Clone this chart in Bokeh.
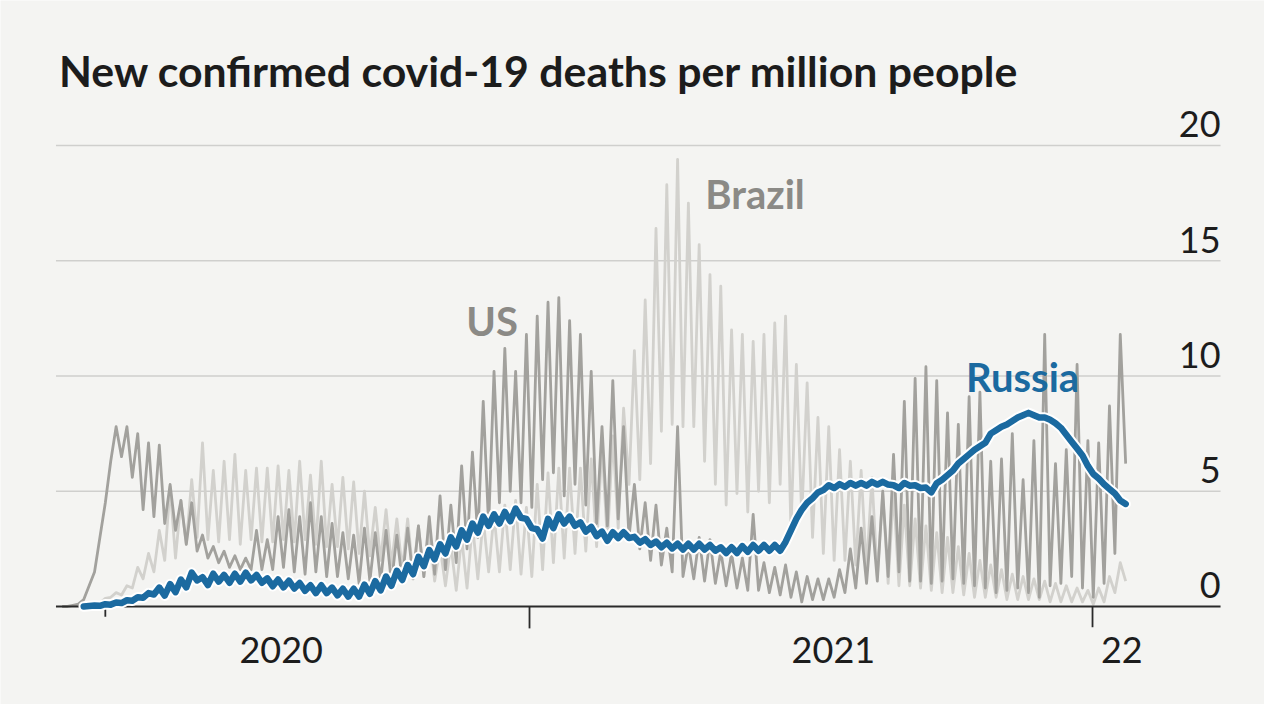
import pandas as pd
from bokeh.plotting import figure
from bokeh.models import Range1d
from bokeh.core.properties import value
from bokeh.embed import file_html
from bokeh.resources import INLINE

# ---------------- data ----------------
title_text = "New confirmed covid-19 deaths per million people"
week0 = "2020-03-02"          # first week of the weekly readings

# US: week 0 .. 98  (value mid-week, value at week-end)
us_start_week = 0
us_midweek = [
    0.0, 0.05, 0.3, 1.5, 4.5, 7.8, 7.8, 7.5, 7.1, 7.0,
    5.3, 4.6, 4.5, 3.1, 2.6, 2.4, 2.2, 2.1, 3.3, 2.9,
    3.9, 4.2, 3.9, 4.5, 3.9, 3.6, 3.2, 3.1, 3.4, 3.2,
    3.3, 3.1, 3.4, 3.5, 3.9, 4.8, 4.4, 6.1, 6.7, 8.9,
    10.2, 11.2, 10.2, 11.8, 12.6, 13.2, 13.4, 12.4, 11.8, 10.2,
    7.8, 9.8, 7.8, 5.3, 4.5, 4.4, 3.4, 7.8, 2.7, 3.0,
    2.9, 2.4, 2.3, 2.1, 4.0, 1.9, 1.7, 1.8, 1.5, 1.3,
    1.2, 1.2, 1.6, 2.5, 3.4, 3.9, 5.0, 6.6, 8.9, 9.9,
    10.4, 9.8, 8.4, 7.9, 9.1, 9.3, 6.3, 6.4, 7.5, 5.5,
    7.2, 11.8, 6.2, 6.8, 10.5, 7.2, 7.1, 8.7, 11.8,
]
us_weekend = [
    0.0, 0.1, 0.9, 3.0, 6.3, 6.5, 5.6, 4.2, 3.9, 3.6,
    3.3, 2.7, 2.4, 2.1, 1.9, 1.7, 1.6, 1.6, 1.6, 1.6,
    1.7, 1.5, 1.4, 1.5, 1.3, 1.3, 1.2, 1.0, 1.1, 1.1,
    1.0, 1.1, 1.2, 1.3, 1.4, 1.6, 1.9, 2.5, 3.0, 3.5,
    4.5, 5.0, 4.5, 4.3, 5.5, 5.8, 4.8, 5.3, 4.4, 3.6,
    3.5, 3.8, 3.0, 2.5, 2.0, 1.8, 1.5, 1.3, 1.2, 1.1,
    1.0, 0.9, 0.8, 0.7, 0.7, 0.6, 0.5, 0.4, 0.2, 0.3,
    0.3, 0.4, 0.6, 0.8, 1.0, 1.1, 1.3, 1.5, 1.1, 1.1,
    1.0, 1.1, 1.2, 1.0, 0.9, 0.8, 0.6, 0.7, 0.8, 0.6,
    0.4, 0.9, 1.0, 1.3, 0.8, 0.4, 1.0, 2.3, 6.2,
]

# Brazil: week 2 .. 98
brazil_start_week = 2
brazil_midweek = [
    0.0, 0.1, 0.35, 0.6, 0.9, 1.7, 2.3, 3.3,
    5.2, 4.6, 5.5, 7.1, 5.9, 6.3, 6.6, 5.9, 6.0, 6.0,
    6.1, 5.9, 6.3, 5.7, 6.3, 5.3, 5.6, 5.4, 5.0, 4.3,
    4.2, 3.8, 3.8, 3.5, 3.2, 2.6, 2.7, 3.0, 3.6, 3.8,
    4.0, 4.4, 4.6, 4.3, 5.3, 5.8, 6.0, 6.0, 6.0, 6.4,
    7.0, 7.4, 8.6, 11.1, 13.3, 16.4, 18.3, 19.4, 17.5, 15.7,
    14.4, 13.9, 12.0, 11.8, 11.5, 11.8, 12.3, 12.6, 10.5, 9.7,
    8.2, 7.8, 6.8, 6.3, 5.9, 5.6, 4.9, 5.0, 4.4, 3.8,
    3.5, 3.2, 3.0, 2.6, 2.3, 2.0, 1.8, 1.6, 1.4, 1.3,
    1.2, 1.1, 1.0, 0.9, 0.8, 0.7, 0.8, 1.3, 1.9,
]
brazil_weekend = [
    0.05, 0.15, 0.4, 0.5, 0.8, 1.2, 1.5, 2.0,
    2.1, 2.7, 3.0, 2.9, 2.8, 2.9, 2.7, 2.9, 2.8, 2.8,
    2.9, 2.8, 2.9, 2.7, 2.6, 2.6, 2.5, 2.3, 2.2, 2.0,
    1.8, 1.6, 1.4, 1.3, 1.1, 0.9, 0.7, 0.8, 1.2, 1.5,
    1.5, 1.6, 1.4, 1.3, 1.6, 1.9, 2.1, 2.3, 2.4, 2.6,
    2.8, 3.4, 5.3, 5.5, 6.2, 7.6, 7.9, 7.8, 7.8, 6.3,
    5.3, 4.4, 4.9, 4.1, 5.0, 4.5, 5.3, 3.3, 3.9, 3.0,
    2.3, 2.0, 2.0, 1.8, 1.6, 1.3, 1.0, 0.9, 0.9, 0.8,
    0.7, 0.6, 0.6, 0.5, 0.4, 0.4, 0.4, 0.3, 0.3, 0.3,
    0.3, 0.2, 0.2, 0.2, 0.2, 0.1, 0.2, 0.6, 1.1,
]

# Russia: week 2 .. 98
russia_start_week = 2
russia_midweek = [
    0.0, 0.04, 0.1, 0.17, 0.27, 0.4, 0.58,
    0.82, 0.97, 1.17, 1.47, 1.27, 1.42, 1.37, 1.42, 1.47, 1.37,
    1.22, 1.17, 1.12, 1.02, 0.92, 0.92, 0.82, 0.77, 0.77,
    0.95, 1.1, 1.3, 1.55, 1.8, 2.15, 2.45, 2.7, 3.0, 3.3,
    3.6, 3.9, 4.0, 4.1, 4.25, 3.8, 3.35, 3.8, 4.0, 3.9,
    3.65, 3.45, 3.25,
    3.22, 3.22, 3.02, 2.92, 2.82, 2.77, 2.72, 2.72, 2.72, 2.67,
    2.57, 2.57, 2.62, 2.67, 2.67, 2.67,
    2.8, 3.8, 4.5, 4.95, 5.26, 5.31, 5.36, 5.36, 5.41, 5.41,
    5.26, 5.36, 5.26, 5.16, 5.35, 5.7, 6.2, 6.6, 6.95, 7.5,
    7.8, 8.05, 8.3, 8.3, 8.2, 7.95, 7.45, 6.85, 6.1, 5.55,
    5.1, 4.6,
]
russia_weekend = [
    0.02, 0.03, 0.08, 0.15, 0.25, 0.38, 0.52,
    0.47, 0.62, 0.83, 1.13, 0.93, 1.08, 1.03, 1.08, 1.13, 1.03,
    0.88, 0.83, 0.78, 0.68, 0.58, 0.58, 0.48, 0.43, 0.43,
    0.55, 0.7, 0.9, 1.15, 1.4, 1.75, 2.05, 2.3, 2.6, 2.9,
    3.2, 3.5, 3.6, 3.7, 3.85, 3.4, 2.95, 3.4, 3.6, 3.5,
    3.25, 3.05, 2.85,
    2.97, 2.97, 2.77, 2.67, 2.57, 2.52, 2.47, 2.47, 2.47, 2.42,
    2.32, 2.32, 2.37, 2.42, 2.42, 2.42,
    3.3, 4.2, 4.7, 5.05, 5.14, 5.19, 5.24, 5.24, 5.29, 5.29,
    5.14, 5.24, 5.14, 4.95, 5.5, 5.9, 6.4, 6.8, 7.1, 7.65,
    7.9, 8.2, 8.4, 8.2, 8.1, 7.75, 7.15, 6.55, 5.75, 5.3,
    4.9, 4.45,
]

y_ticks = [0, 5, 10, 15, 20]
y_tick_labels = ["0", "5", "10", "15", "20"]
x_tick_dates = ["2020-04-01", "2021-01-01", "2022-01-01"]
x_label_dates = ["2020-07-24", "2021-07-17", "2022-01-20"]
x_labels = ["2020", "2021", "22"]

# ---------------- helpers ----------------
def weekly_path(start_week, midweek, weekend):
    base = pd.Timestamp(week0) + pd.Timedelta(days=7 * start_week)
    xs, ys = [], []
    for i, (a, b) in enumerate(zip(midweek, weekend)):
        d = base + pd.Timedelta(days=7 * i)
        xs += [d + pd.Timedelta(days=2), d + pd.Timedelta(hours=132)]
        ys += [a, b]
    return xs, ys

origin = pd.Timestamp("2021-01-01")
view_start = origin - pd.Timedelta(days=342.96)
view_end = origin + pd.Timedelta(days=476.5)
axis_start = pd.Timestamp("2020-02-29")
axis_end = pd.Timestamp("2022-03-25")

BG = "#f4f4f2"
US_C = "#a2a19d"
BR_C = "#d2d1cd"
RU_C = "#1b6aa0"
TXT = "#1c1c1c"
FONT = "Lato"

p = figure(width=1264, height=704, x_axis_type="datetime",
           x_range=Range1d(view_start, view_end),
           y_range=Range1d(-4.252, 26.29),
           x_axis_location=None, y_axis_location=None,
           output_backend="svg", toolbar_location=None, min_border=0)
p.xgrid.visible = False
p.ygrid.visible = False
p.outline_line_color = None
p.background_fill_color = BG
p.border_fill_color = BG

# gridlines (not zero)
p.segment(x0=[axis_start] * 4, x1=[axis_end] * 4, y0=y_ticks[1:], y1=y_ticks[1:],
          line_color="#cfcfcd", line_width=1.3)

# series
bx, by = weekly_path(brazil_start_week, brazil_midweek, brazil_weekend)
p.line(bx, by, line_color=BR_C, line_width=2.8, line_join="round")
ux, uy = weekly_path(us_start_week, us_midweek, us_weekend)
p.line(ux, uy, line_color=US_C, line_width=2.8, line_join="round")

# zero axis line and ticks
p.segment(x0=[axis_start], x1=[axis_end], y0=[0], y1=[0], line_color="#2a2a2a", line_width=2)
xt = [pd.Timestamp(d) for d in x_tick_dates]
p.segment(x0=xt, x1=xt, y0=[0, 0, 0], y1=[-0.45, -0.95, -0.9], line_color="#2a2a2a", line_width=1.8)

rx, ry = weekly_path(russia_start_week, russia_midweek, russia_weekend)
p.line(rx, ry, line_color="white", line_width=10.5, line_join="round", line_cap="round")
p.line(rx, ry, line_color=RU_C, line_width=6.5, line_join="round", line_cap="round")

# y tick labels (right, above gridlines)
p.text(x=[axis_end] * 5, y=y_ticks, text=y_tick_labels, text_align="right",
       text_baseline="alphabetic", y_offset=-21, text_color=TXT,
       text_font=value(FONT), text_font_size="36px")

# x labels
p.text(x=[pd.Timestamp(d) for d in x_label_dates], y=[0, 0, 0], text=x_labels,
       text_align="center", text_baseline="alphabetic", y_offset=44,
       text_color=TXT, text_font=value(FONT), text_font_size="36px")

# series labels
p.text(x=[pd.Timestamp("2020-11-21")], y=[11.67], text=["US"], text_color="#8b8a86",
       text_font=value(FONT), text_font_style="bold", text_font_size="40px",
       text_baseline="alphabetic", y_offset=-16)
p.text(x=[pd.Timestamp("2021-04-25")], y=[17.18], text=["Brazil"], text_color="#8b8a86",
       text_font=value(FONT), text_font_style="bold", text_font_size="40px",
       text_baseline="alphabetic", y_offset=-16)
p.text(x=[pd.Timestamp("2021-10-11")], y=[9.28], text=["Russia"], text_color=RU_C,
       text_font=value(FONT), text_font_style="bold", text_font_size="40px",
       text_baseline="alphabetic", y_offset=-16)

# title
p.text(x=[pd.Timestamp("2020-03-02")], y=[22.47], text=[title_text], text_color=TXT,
       text_font=value(FONT), text_font_style="bold", text_font_size="42.8px",
       text_baseline="alphabetic", y_offset=-18)

open("out.html", "w").write(file_html(p, INLINE))
